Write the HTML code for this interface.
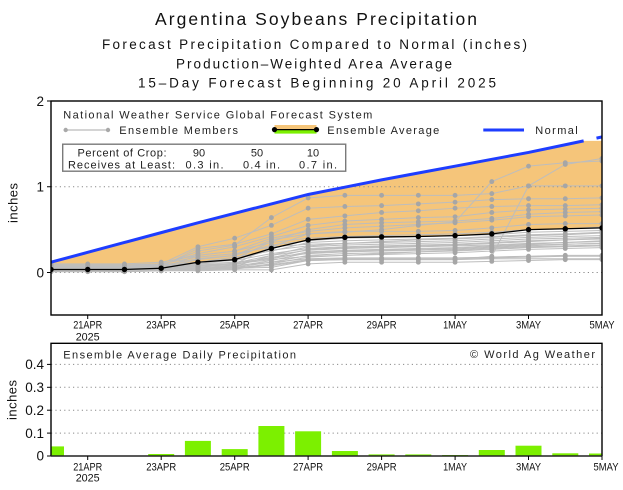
<!DOCTYPE html>
<html><head><meta charset="utf-8"><style>html,body{margin:0;padding:0;background:#fff}svg{display:block}</style></head>
<body>
<svg width="623" height="490" viewBox="0 0 623 490" xmlns="http://www.w3.org/2000/svg" font-family="'Liberation Sans', sans-serif">
<defs>
<clipPath id="cpTop"><rect x="51" y="101" width="551" height="214"/></clipPath>
<marker id="gd" markerUnits="userSpaceOnUse" overflow="visible" markerWidth="1" markerHeight="1" refX="0" refY="0"><ellipse cx="0" cy="0" rx="0.066" ry="0.0285" fill="#a6a6a6"/></marker>
<marker id="bd" markerUnits="userSpaceOnUse" overflow="visible" markerWidth="1" markerHeight="1" refX="0" refY="0"><ellipse cx="0" cy="0" rx="0.074" ry="0.0318" fill="#000"/></marker>
</defs>
<rect width="623" height="490" fill="#fff"/>

<!-- Titles -->
<text x="155" y="25" font-size="17.5" textLength="322" lengthAdjust="spacing" fill="#111">Argentina Soybeans Precipitation</text>
<text x="102" y="49" font-size="13.5" textLength="425" lengthAdjust="spacing" fill="#111">Forecast Precipitation Compared to Normal (inches)</text>
<text x="176" y="68.5" font-size="13.5" textLength="276" lengthAdjust="spacing" fill="#111">Production–Weighted Area Average</text>
<text x="138" y="87.3" font-size="13.5" textLength="358" lengthAdjust="spacing" fill="#111">15–Day Forecast Beginning 20 April 2025</text>

<!-- TOP PLOT -->
<g clip-path="url(#cpTop)">
<g transform="translate(51,272.5) scale(36.733,-85.75)">
<polygon fill="#F5C57A" points="0,0.12 1,0.235 2,0.35 3,0.465 4,0.58 5,0.69 6,0.80 7,0.91 8,0.995 9,1.08 10,1.16 11,1.24 12,1.32 13,1.40 14,1.49 14.5,1.535 15,1.535 15,0.52 14,0.51 13,0.50 12,0.45 11,0.43 10,0.42 9,0.415 8,0.41 7,0.38 6,0.28 5,0.15 4,0.12 3,0.05 2,0.035 1,0.035 0,0.035"/>
</g>
<line x1="51" y1="186.75" x2="602" y2="186.75" stroke="#8a8a8a" stroke-width="1" stroke-dasharray="1.2 3.2"/>
<line x1="51" y1="272.5" x2="602" y2="272.5" stroke="#8a8a8a" stroke-width="1" stroke-dasharray="1.2 3.2"/>
<g transform="translate(51,272.5) scale(36.733,-85.75)" fill="none" stroke="#bdbdbd" stroke-width="1" marker-start="url(#gd)" marker-mid="url(#gd)" marker-end="url(#gd)">
<polyline vector-effect="non-scaling-stroke" points="0,.01 1,.01 2,.01 3,.02 4,.02 5,.03 6,.03 7,.10 8,.12 9,.12 10,.12 11,.12 12,.13 13,.14 14,.15 15,.15"/>
<polyline vector-effect="non-scaling-stroke" points="0,.02 1,.02 2,.02 3,.03 4,.03 5,.05 6,.06 7,.14 8,.15 9,.15 10,.15 11,.15 12,.16 13,.16 14,.16 15,.16"/>
<polyline vector-effect="non-scaling-stroke" points="0,.03 1,.03 2,.03 3,.04 4,.06 5,.08 6,.12 7,.16 8,.17 9,.17 10,.17 11,.17 12,.18 13,.19 14,.20 15,.20"/>
<polyline vector-effect="non-scaling-stroke" points="0,.05 1,.05 2,.05 3,.06 4,.09 5,.10 6,.15 7,.19 8,.20 9,.21 10,.22 11,.23 12,.25 13,.27 14,.28 15,.29"/>
<polyline vector-effect="non-scaling-stroke" points="0,.04 1,.04 2,.04 3,.05 4,.07 5,.09 6,.18 7,.22 8,.24 9,.25 10,.26 11,.27 12,.29 13,.31 14,.33 15,.34"/>
<polyline vector-effect="non-scaling-stroke" points="0,.02 1,.02 2,.02 3,.03 4,.05 5,.07 6,.20 7,.26 8,.28 9,.29 10,.30 11,.31 12,.32 13,.34 14,.35 15,.36"/>
<polyline vector-effect="non-scaling-stroke" points="0,.06 1,.06 2,.06 3,.08 4,.12 5,.14 6,.22 7,.28 8,.30 9,.31 10,.32 11,.33 12,.35 13,.37 14,.38 15,.39"/>
<polyline vector-effect="non-scaling-stroke" points="0,.08 1,.08 2,.08 3,.10 4,.18 5,.22 6,.30 7,.33 8,.34 9,.35 10,.36 11,.37 12,.39 13,.41 14,.42 15,.43"/>
<polyline vector-effect="non-scaling-stroke" points="0,.03 1,.03 2,.03 3,.04 4,.10 5,.15 6,.26 7,.31 8,.34 9,.36 10,.38 11,.39 12,.41 13,.43 14,.44 15,.46"/>
<polyline vector-effect="non-scaling-stroke" points="0,.10 1,.10 2,.10 3,.12 4,.20 5,.25 6,.35 7,.40 8,.42 9,.43 10,.44 11,.45 12,.47 13,.50 14,.51 15,.53"/>
<polyline vector-effect="non-scaling-stroke" points="0,.05 1,.05 2,.05 3,.06 4,.15 5,.20 6,.38 7,.45 8,.48 9,.48 10,.48 11,.49 12,.52 13,.56 14,.57 15,.57"/>
<polyline vector-effect="non-scaling-stroke" points="0,.04 1,.04 2,.04 3,.05 4,.20 5,.25 6,.40 7,.48 8,.52 9,.54 10,.56 11,.58 12,.61 13,.65 14,.66 15,.67"/>
<polyline vector-effect="non-scaling-stroke" points="0,.07 1,.07 2,.07 3,.09 4,.22 5,.30 6,.42 7,.55 8,.60 9,.62 10,.64 11,.65 12,.70 13,.73 14,.74 15,.75"/>
<polyline vector-effect="non-scaling-stroke" points="0,.05 1,.05 2,.05 3,.07 4,.28 5,.33 6,.45 7,.62 8,.66 9,.70 10,.72 11,.75 12,.77 13,.78 14,.78 15,.79"/>
<polyline vector-effect="non-scaling-stroke" points="0,.09 1,.09 2,.09 3,.10 4,.30 5,.40 6,.55 7,.75 8,.77 9,.78 10,.80 11,.82 12,.85 13,.86 14,.86 15,.87"/>
<polyline vector-effect="non-scaling-stroke" points="0,.06 1,.06 2,.06 3,.08 4,.25 5,.32 6,.64 7,.87 8,.90 9,.90 10,.90 11,.90 12,.92 13,1.01 14,1.01 15,1.01"/>
<polyline vector-effect="non-scaling-stroke" points="0,.03 1,.03 2,.03 3,.04 4,.05 5,.06 6,.08 7,.14 8,.15 9,.15 10,.15 11,.15 12,.19 13,1.01 14,1.26 15,1.33"/>
<polyline vector-effect="non-scaling-stroke" points="0,.04 1,.04 2,.04 3,.05 4,.08 5,.10 6,.30 7,.45 8,.47 9,.50 10,.55 11,.59 12,1.06 13,1.24 14,1.28 15,1.30"/>
<polyline vector-effect="non-scaling-stroke" points="0,.02 1,.02 2,.02 3,.02 4,.04 5,.05 6,.10 7,.18 8,.20 9,.22 10,.24 11,.26 12,.28 13,.30 14,.31 15,.32"/>
<polyline vector-effect="non-scaling-stroke" points="0,.05 1,.05 2,.05 3,.06 4,.12 5,.18 6,.25 7,.35 8,.37 9,.38 10,.39 11,.40 12,.42 13,.44 14,.45 15,.47"/>
<polyline vector-effect="non-scaling-stroke" points="0,.06 1,.06 2,.06 3,.07 4,.10 5,.12 6,.16 7,.24 8,.26 9,.27 10,.28 11,.29 12,.31 13,.33 14,.35 15,.37"/>
<polyline vector-effect="non-scaling-stroke" points="0,.02 1,.02 2,.02 3,.03 4,.04 5,.06 6,.12 7,.20 8,.22 9,.23 10,.24 11,.25 12,.27 13,.29 14,.30 15,.31"/>
<polyline vector-effect="non-scaling-stroke" points="0,.03 1,.03 2,.03 3,.03 4,.05 5,.07 6,.14 7,.23 8,.25 9,.26 10,.27 11,.28 12,.30 13,.32 14,.33 15,.34"/>
<polyline vector-effect="non-scaling-stroke" points="0,.04 1,.04 2,.04 3,.05 4,.07 5,.10 6,.17 7,.27 8,.29 9,.30 10,.31 11,.32 12,.34 13,.36 14,.38 15,.40"/>
<polyline vector-effect="non-scaling-stroke" points="0,.01 1,.01 2,.01 3,.02 4,.03 5,.04 6,.09 7,.15 8,.16 9,.16 10,.16 11,.16 12,.17 13,.18 14,.19 15,.19"/>
<polyline vector-effect="non-scaling-stroke" points="0,.07 1,.07 2,.07 3,.08 4,.16 5,.20 6,.32 7,.37 8,.40 9,.41 10,.42 11,.43 12,.44 13,.47 14,.48 15,.49"/>
<polyline vector-effect="non-scaling-stroke" points="0,.03 1,.03 2,.03 3,.04 4,.12 5,.16 6,.36 7,.50 8,.56 9,.58 10,.59 11,.60 12,.63 13,.68 14,.70 15,.71"/>
<polyline vector-effect="non-scaling-stroke" points="0,.05 1,.05 2,.05 3,.06 4,.08 5,.11 6,.20 7,.30 8,.32 9,.33 10,.34 11,.35 12,.37 13,.39 14,.40 15,.41"/>
</g>
<g transform="translate(51,272.5) scale(36.733,-85.75)" fill="none">
<polyline vector-effect="non-scaling-stroke" stroke="#000" stroke-width="1.3" marker-start="url(#bd)" marker-mid="url(#bd)" marker-end="url(#bd)" points="0,0.035 1,0.035 2,0.035 3,0.05 4,0.12 5,0.15 6,0.28 7,0.38 8,0.41 9,0.415 10,0.42 11,0.43 12,0.45 13,0.50 14,0.51 15,0.52"/>
<polyline vector-effect="non-scaling-stroke" stroke="#1E3DFF" stroke-width="3" points="0,0.12 1,0.235 2,0.35 3,0.465 4,0.58 5,0.69 6,0.80 7,0.91 8,0.995 9,1.08 10,1.16 11,1.24 12,1.32 13,1.40 14,1.49 14.5,1.535"/>
<polyline vector-effect="non-scaling-stroke" stroke="#1E3DFF" stroke-width="3" points="14.85,1.567 15.1,1.59"/>
</g>
</g>
<rect x="51" y="101" width="551" height="214" fill="none" stroke="#000" stroke-width="1.4"/>

<!-- top plot legend -->
<text x="63.3" y="118.5" font-size="11" textLength="309" lengthAdjust="spacing" fill="#222">National Weather Service Global Forecast System</text>
<line x1="65.7" y1="130" x2="108" y2="130" stroke="#a9a9a9" stroke-width="1"/>
<circle cx="65.7" cy="130" r="2.2" fill="#a9a9a9"/><circle cx="108" cy="130" r="2.2" fill="#a9a9a9"/>
<text x="119.3" y="134" font-size="11" textLength="118.7" lengthAdjust="spacing" fill="#222">Ensemble Members</text>
<rect x="274.5" y="125" width="42" height="5" fill="#F5C57A"/>
<rect x="274.5" y="130" width="42" height="3.6" fill="#7CF000"/>
<line x1="274.5" y1="129.6" x2="316.5" y2="129.6" stroke="#000" stroke-width="1.3"/>
<circle cx="274.5" cy="129.6" r="2.6" fill="#000"/><circle cx="316.5" cy="129.6" r="2.6" fill="#000"/>
<text x="327.3" y="134" font-size="11" textLength="112" lengthAdjust="spacing" fill="#222">Ensemble Average</text>
<line x1="483.3" y1="130" x2="524" y2="130" stroke="#1E3DFF" stroke-width="3"/>
<text x="535.3" y="134" font-size="11" textLength="42.4" lengthAdjust="spacing" fill="#222">Normal</text>

<rect x="62.7" y="144.2" width="283" height="27" fill="#fff" stroke="#7a7a7a" stroke-width="1.4"/>
<text x="77.5" y="156.7" font-size="11" textLength="89" lengthAdjust="spacing" fill="#222">Percent of Crop:</text>
<text x="199" y="156.7" font-size="11" text-anchor="middle" fill="#222">90</text>
<text x="257" y="156.7" font-size="11" text-anchor="middle" fill="#222">50</text>
<text x="313" y="156.7" font-size="11" text-anchor="middle" fill="#222">10</text>
<text x="68" y="168.3" font-size="11" textLength="107" lengthAdjust="spacing" fill="#222">Receives at Least:</text>
<text x="185.5" y="168.3" font-size="11" textLength="38" lengthAdjust="spacing" fill="#222">0.3 in.</text>
<text x="243" y="168.3" font-size="11" textLength="37" lengthAdjust="spacing" fill="#222">0.4 in.</text>
<text x="299" y="168.3" font-size="11" textLength="38" lengthAdjust="spacing" fill="#222">0.7 in.</text>

<!-- top axes labels -->
<g font-size="13.5" text-anchor="end" fill="#111">
<text x="44" y="106">2</text>
<text x="44" y="191.5">1</text>
<text x="44" y="277.3">0</text>
</g>
<g stroke="#000" stroke-width="1">
<line x1="47" y1="101" x2="51" y2="101"/><line x1="47" y1="186.75" x2="51" y2="186.75"/><line x1="47" y1="272.5" x2="51" y2="272.5"/>
<line x1="87.7" y1="315" x2="87.7" y2="319"/><line x1="161.2" y1="315" x2="161.2" y2="319"/><line x1="234.7" y1="315" x2="234.7" y2="319"/><line x1="308.1" y1="315" x2="308.1" y2="319"/><line x1="381.6" y1="315" x2="381.6" y2="319"/><line x1="455.1" y1="315" x2="455.1" y2="319"/><line x1="528.5" y1="315" x2="528.5" y2="319"/>
</g>
<text transform="translate(17.5,203) rotate(-90)" font-size="13" text-anchor="middle" textLength="40" lengthAdjust="spacing" fill="#111">inches</text>
<g font-size="11" text-anchor="middle" fill="#111">
<text x="87.7" y="328.3" textLength="29" lengthAdjust="spacingAndGlyphs">21APR</text>
<text x="87.7" y="340.3" textLength="24" lengthAdjust="spacingAndGlyphs">2025</text>
<text x="161.2" y="328.3" textLength="30" lengthAdjust="spacingAndGlyphs">23APR</text>
<text x="234.7" y="328.3" textLength="30" lengthAdjust="spacingAndGlyphs">25APR</text>
<text x="308.1" y="328.3" textLength="30" lengthAdjust="spacingAndGlyphs">27APR</text>
<text x="381.6" y="328.3" textLength="30" lengthAdjust="spacingAndGlyphs">29APR</text>
<text x="455.1" y="328.3" textLength="24" lengthAdjust="spacingAndGlyphs">1MAY</text>
<text x="528.5" y="328.3" textLength="25" lengthAdjust="spacingAndGlyphs">3MAY</text>
<text x="602" y="328.3" textLength="25" lengthAdjust="spacingAndGlyphs">5MAY</text>
</g>

<!-- BOTTOM PLOT -->
<g stroke="#8a8a8a" stroke-width="1" stroke-dasharray="1.2 3.2">
<line x1="51" y1="364.4" x2="602" y2="364.4"/>
<line x1="51" y1="387.3" x2="602" y2="387.3"/>
<line x1="51" y1="410.2" x2="602" y2="410.2"/>
<line x1="51" y1="433.1" x2="602" y2="433.1"/>
</g>
<g fill="#7CF000">
<rect x="51" y="446.4" width="13" height="9.6"/>
<rect x="74.7" y="455.6" width="26" height="0.4"/>
<rect x="111.5" y="455.6" width="26" height="0.4"/>
<rect x="148.2" y="454" width="26" height="2"/>
<rect x="184.9" y="440.9" width="26" height="15.1"/>
<rect x="221.7" y="449.1" width="26" height="6.9"/>
<rect x="258.4" y="426" width="26" height="30"/>
<rect x="295.1" y="431.3" width="26" height="24.7"/>
<rect x="331.9" y="451" width="26" height="5"/>
<rect x="368.6" y="454.4" width="26" height="1.6"/>
<rect x="405.3" y="454.4" width="26" height="1.6"/>
<rect x="442.1" y="455" width="26" height="1"/>
<rect x="478.8" y="450" width="26" height="6"/>
<rect x="515.5" y="445.7" width="26" height="10.3"/>
<rect x="552.3" y="453.3" width="26" height="2.7"/>
<rect x="589" y="453.5" width="13" height="2.5"/>
</g>
<path d="M51,456V343.3H602V456" fill="none" stroke="#000" stroke-width="1.4"/>
<line x1="51" y1="456" x2="602" y2="456" stroke="#222" stroke-width="1.6"/>
<g stroke="#000" stroke-width="1">
<line x1="47" y1="364.4" x2="51" y2="364.4"/><line x1="47" y1="387.3" x2="51" y2="387.3"/><line x1="47" y1="410.2" x2="51" y2="410.2"/><line x1="47" y1="433.1" x2="51" y2="433.1"/><line x1="47" y1="456" x2="51" y2="456"/>
<line x1="87.7" y1="456" x2="87.7" y2="460"/><line x1="161.2" y1="456" x2="161.2" y2="460"/><line x1="234.7" y1="456" x2="234.7" y2="460"/><line x1="308.1" y1="456" x2="308.1" y2="460"/><line x1="381.6" y1="456" x2="381.6" y2="460"/><line x1="455.1" y1="456" x2="455.1" y2="460"/><line x1="528.5" y1="456" x2="528.5" y2="460"/><line x1="602" y1="456" x2="602" y2="460"/>
</g>
<text x="63.3" y="358.3" font-size="11" textLength="232.7" lengthAdjust="spacing" fill="#222">Ensemble Average Daily Precipitation</text>
<text x="470" y="358" font-size="11" textLength="125" lengthAdjust="spacing" fill="#222">© World Ag Weather</text>
<g font-size="13.5" text-anchor="end" fill="#111">
<text x="44" y="369">0.4</text>
<text x="44" y="392">0.3</text>
<text x="44" y="414.9">0.2</text>
<text x="44" y="437.8">0.1</text>
<text x="44" y="460.7">0</text>
</g>
<text transform="translate(16.5,400) rotate(-90)" font-size="13" text-anchor="middle" textLength="40" lengthAdjust="spacing" fill="#111">inches</text>
<g font-size="11" text-anchor="middle" fill="#111">
<text x="87.7" y="470.3" textLength="29" lengthAdjust="spacingAndGlyphs">21APR</text>
<text x="87.7" y="481.3" textLength="24" lengthAdjust="spacingAndGlyphs">2025</text>
<text x="161.2" y="470.3" textLength="30" lengthAdjust="spacingAndGlyphs">23APR</text>
<text x="234.7" y="470.3" textLength="30" lengthAdjust="spacingAndGlyphs">25APR</text>
<text x="308.1" y="470.3" textLength="30" lengthAdjust="spacingAndGlyphs">27APR</text>
<text x="381.6" y="470.3" textLength="30" lengthAdjust="spacingAndGlyphs">29APR</text>
<text x="455.1" y="470.3" textLength="24" lengthAdjust="spacingAndGlyphs">1MAY</text>
<text x="528.5" y="470.3" textLength="25" lengthAdjust="spacingAndGlyphs">3MAY</text>
<text x="606" y="470.3" textLength="25" lengthAdjust="spacingAndGlyphs">5MAY</text>
</g>
</svg>
</body></html>
